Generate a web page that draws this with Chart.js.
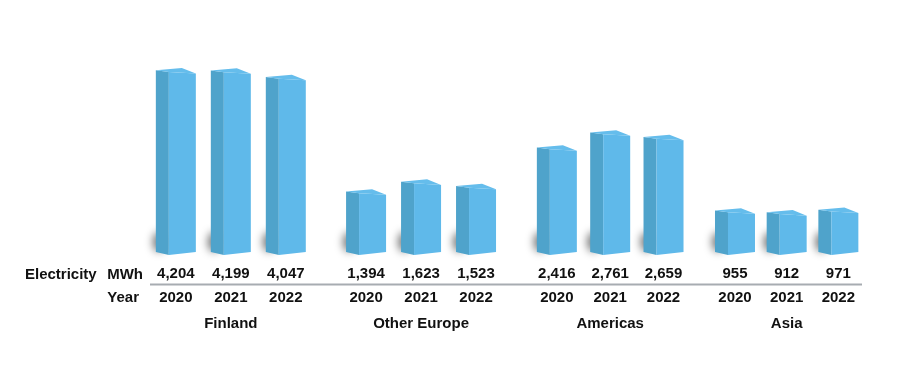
<!DOCTYPE html>
<html>
<head>
<meta charset="utf-8">
<script src="https://cdn.jsdelivr.net/npm/chart.js@4/dist/chart.umd.min.js"></script>
<style>
  body { margin: 0; background: #fff; }
  #wrap { width: 900px; height: 377px; }
</style>
</head>
<body>
<div id="wrap"><canvas id="grafico-energia"></canvas></div>
<script>
// dados (MWh)
const regions = ["Finland", "Other Europe", "Americas", "Asia"];
const years = ["2020", "2021", "2022"];
const finland = [4204, 4199, 4047];
const otherEurope = [1394, 1623, 1523];
const americas = [2416, 2761, 2659];
const asia = [955, 912, 971];
const rowLabel = "Electricity";
const unitLabel = "MWh";
const yearLabel = "Year";

// layout: onde cada grupo começa no eixo x (em "slots" de barra)
const groupOffset = [0, 3.46, 6.93, 10.17];
const groupStep = [1, 1, 0.97, 0.94];

const series = [finland, otherEurope, americas, asia];
const points = [];
series.forEach((vals, g) => {
    vals.forEach((v, i) => {
        points.push({ x: groupOffset[g] + i * groupStep[g], y: v, region: g, year: i });
    });
});

const fonte = 'bold 15px "Liberation Sans", Arial, sans-serif';

function fmt(n) {
    return n.toLocaleString("en-US");
}

// desenha as barras "3D"
const barras3d = {
    id: "barras3d",
    afterDatasetsDraw(chart) {
        const ctx = chart.ctx;
        const meta = chart.getDatasetMeta(0);
        ctx.save();
        // sombras primeiro
        for (const el of meta.data) {
            const L = el.x - el.width / 2;
            const B = el.base;
            ctx.save();
            ctx.filter = "blur(4px)";
            ctx.fillStyle = "rgba(0,0,0,0.55)";
            ctx.beginPath();
            ctx.ellipse(L + 3, B - 13, 6, 10, 0, 0, Math.PI * 2);
            ctx.fill();
            ctx.restore();
        }
        for (const el of meta.data) {
            const L = el.x - el.width / 2;
            const R = el.x + el.width / 2;
            const T = el.y;
            const B = el.base;
            const side = 13;

            // lado esquerdo
            ctx.fillStyle = "#4fa3cb";
            ctx.beginPath();
            ctx.moveTo(L, T + 2.3);
            ctx.lineTo(L + side, T + 4);
            ctx.lineTo(L + side, B);
            ctx.lineTo(L, B - 3);
            ctx.closePath();
            ctx.fill();

            // frente
            ctx.fillStyle = "#5fb9ea";
            ctx.beginPath();
            ctx.moveTo(L + side, T + 4);
            ctx.lineTo(R, T + 5.6);
            ctx.lineTo(R, B - 3);
            ctx.lineTo(L + side, B);
            ctx.closePath();
            ctx.fill();

            // topo
            ctx.fillStyle = "#65bdec";
            ctx.beginPath();
            ctx.moveTo(L, T + 2.3);
            ctx.lineTo(L + 26, T);
            ctx.lineTo(R, T + 5.6);
            ctx.lineTo(L + side, T + 4);
            ctx.closePath();
            ctx.fill();
        }
        ctx.restore();
    }
};

// rótulos embaixo das barras
const rotulos = {
    id: "rotulos",
    afterDraw(chart) {
        const ctx = chart.ctx;
        const area = chart.chartArea;
        const meta = chart.getDatasetMeta(0);
        const yVal = area.bottom + 19;
        const yLine = area.bottom + 29.5;
        const yYear = area.bottom + 43;
        const yRegion = area.bottom + 69;

        ctx.save();
        ctx.font = fonte;
        ctx.fillStyle = "#111";
        ctx.textBaseline = "middle";

        ctx.textAlign = "left";
        ctx.fillText(rowLabel, 25, yVal + 1);
        ctx.textAlign = "right";
        ctx.fillText(unitLabel, 143, yVal + 1);
        ctx.fillText(yearLabel, 139, yYear);

        ctx.textAlign = "center";
        meta.data.forEach((el, k) => {
            const p = points[k];
            ctx.fillText(fmt(p.y), el.x, yVal);
            ctx.fillText(years[p.year], el.x, yYear);
            if (p.year === 1) {
                ctx.fillText(regions[p.region], el.x, yRegion);
            }
        });

        ctx.strokeStyle = "#a7acb1";
        ctx.lineWidth = 2;
        ctx.beginPath();
        ctx.moveTo(area.left, yLine);
        ctx.lineTo(area.right, yLine);
        ctx.stroke();
        ctx.restore();
    }
};

const grafico = new Chart("grafico-energia", {
    type: "bar",
    data: {
        datasets: [{
            data: points,
            base: -130,
            barThickness: 40,
            backgroundColor: "rgba(0,0,0,0)",
            borderWidth: 0
        }]
    },
    options: {
        responsive: true,
        maintainAspectRatio: false,
        animation: false,
        layout: { padding: { left: 150, right: 38, top: 0, bottom: 122 } },
        plugins: { legend: { display: false }, tooltip: { enabled: false } },
        scales: {
            x: { type: "linear", min: -0.47, max: 12.48, offset: false, grid: { offset: false }, display: false },
            y: { min: -130, max: 5780, display: false }
        }
    },
    plugins: [barras3d, rotulos]
});
</script>
</body>
</html>
